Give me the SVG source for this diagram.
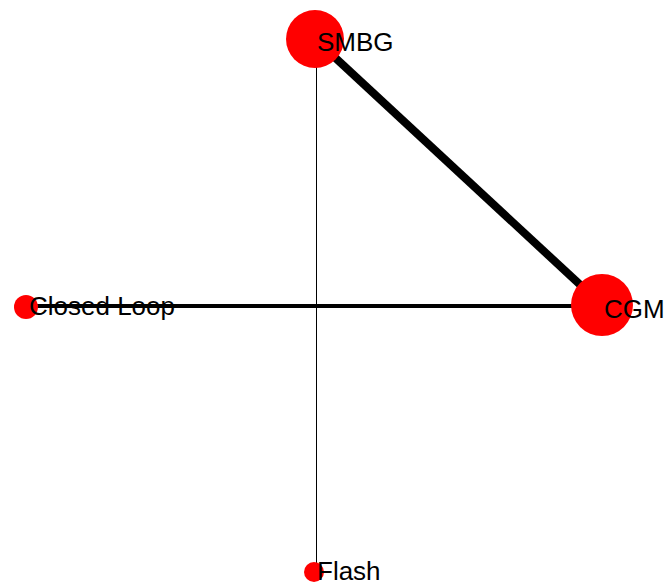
<svg xmlns="http://www.w3.org/2000/svg" width="665" height="586" viewBox="0 0 665 586">
<style>
.node{fill:#ff0000;}
.lbl{font-family:"Liberation Sans",Arial,sans-serif;font-size:26px;fill:#000;}
.edge{stroke:#000;fill:none;}
</style>
<rect width="665" height="586" fill="#fff"/>
<g id="connectors">
<line class="edge" x1="315" y1="39" x2="602" y2="305" stroke-width="8"/>
<line class="edge" x1="25" y1="306" x2="602" y2="306" stroke-width="4"/>
<line class="edge" x1="316.5" y1="39" x2="316.5" y2="572" stroke-width="1"/>
</g>
<g id="node-smbg">
<circle class="node" cx="315" cy="39" r="29"/>
<text class="lbl" x="317" y="51">SMBG</text>
</g>
<g id="node-cgm">
<circle class="node" cx="602" cy="305" r="31"/>
<text class="lbl" x="604" y="318">CGM</text>
</g>
<g id="node-closed-loop">
<circle class="node" cx="26" cy="307" r="12"/>
<text class="lbl" x="29" y="315">Closed Loop</text>
</g>
<g id="node-flash">
<circle class="node" cx="314" cy="572" r="10"/>
<text class="lbl" x="317" y="580">Flash</text>
</g>
</svg>
